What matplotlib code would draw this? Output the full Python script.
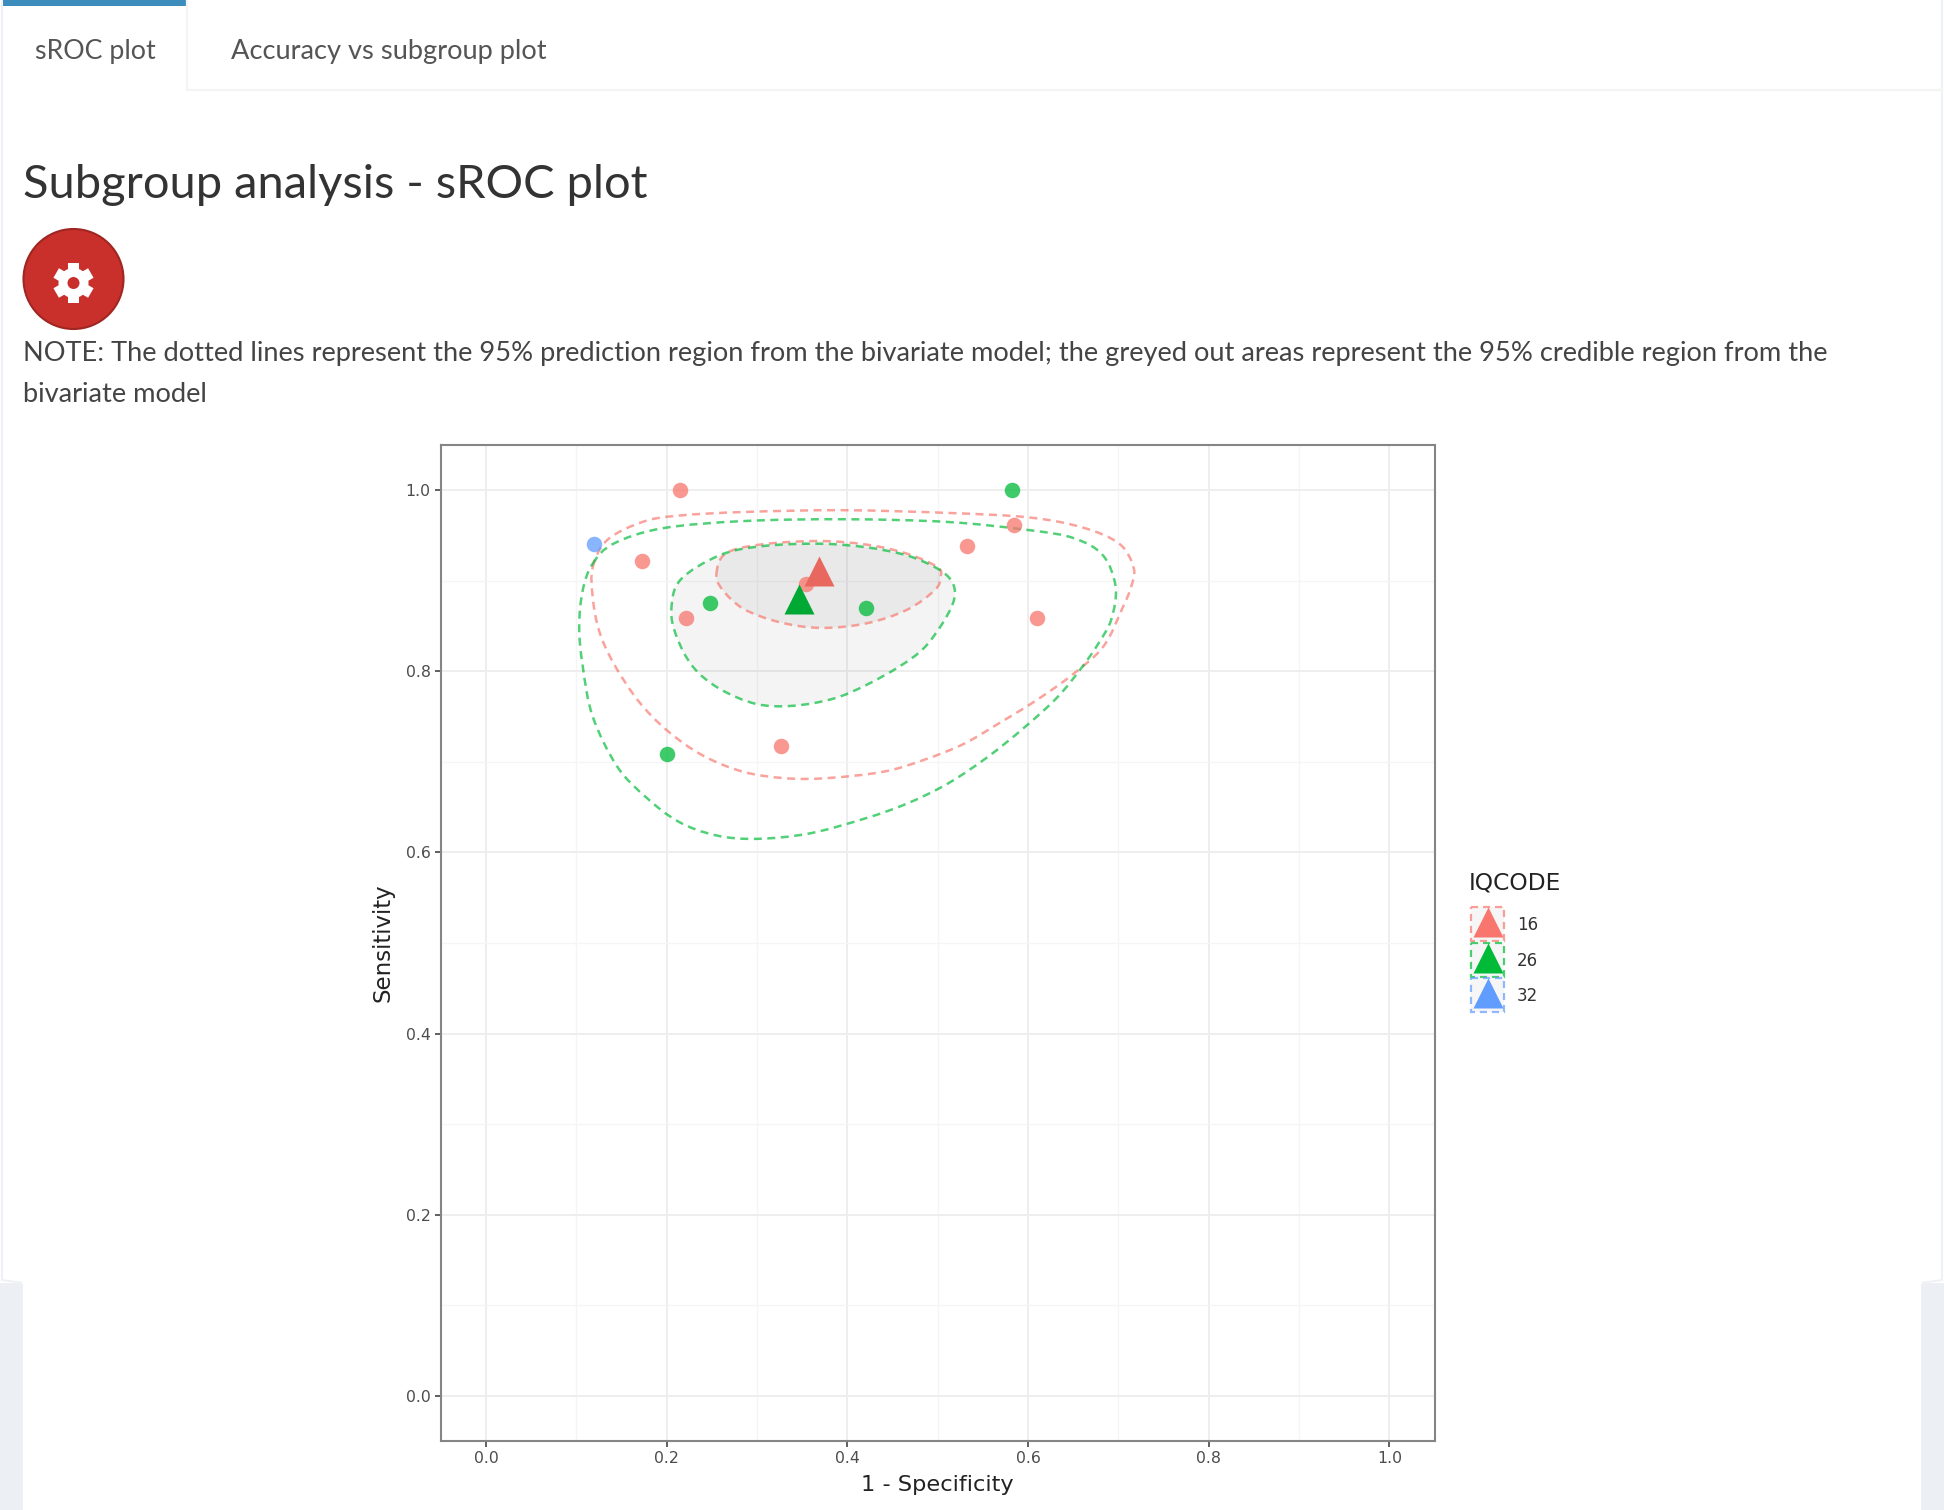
"""
plot.py - subgroup analysis sROC plot, as shown on the results page.
"""
import numpy as np
import matplotlib
matplotlib.use('Agg')
import matplotlib.pyplot as plt
from matplotlib.patches import Circle, PathPatch, Rectangle
from matplotlib.path import Path
from matplotlib.transforms import Affine2D

# Study points: 1 - specificity, sensitivity
red_x = [0.215, 0.173, 0.221, 0.326, 0.354, 0.532, 0.584, 0.610]
red_y = [1.000, 0.922, 0.859, 0.718, 0.897, 0.939, 0.962, 0.859]
green_x = [0.582, 0.248, 0.421, 0.200]
green_y = [1.000, 0.875, 0.870, 0.709]
blue_x = [0.119]
blue_y = [0.941]

# Summary estimates
red_summary = (0.369, 0.911)
green_summary = (0.346, 0.880)

# 95% prediction regions
red_pred_x = [0.118, 0.134, 0.173, 0.213, 0.285, 0.394, 0.511, 0.601, 0.660, 0.701, 0.717, 0.714, 0.705, 0.683,
              0.646, 0.606, 0.570, 0.529, 0.484, 0.439, 0.376, 0.331, 0.285, 0.240, 0.200, 0.168, 0.141, 0.125, 0.118]
red_pred_y = [0.915, 0.945, 0.965, 0.972, 0.976, 0.978, 0.975, 0.970, 0.959, 0.941, 0.914, 0.893, 0.871, 0.827,
              0.794, 0.766, 0.744, 0.720, 0.702, 0.689, 0.682, 0.682, 0.689, 0.707, 0.735, 0.768, 0.809, 0.845, 0.882]
green_pred_x = [0.118, 0.141, 0.195, 0.285, 0.398, 0.511, 0.601, 0.651, 0.683, 0.697, 0.692, 0.678, 0.660, 0.633,
                0.597, 0.556, 0.511, 0.466, 0.421, 0.358, 0.299, 0.254, 0.213, 0.177, 0.145, 0.118, 0.107, 0.103, 0.107]
green_pred_y = [0.919, 0.941, 0.958, 0.966, 0.968, 0.965, 0.956, 0.947, 0.928, 0.893, 0.857, 0.831, 0.805, 0.772,
                0.739, 0.706, 0.676, 0.654, 0.638, 0.621, 0.615, 0.619, 0.634, 0.661, 0.695, 0.750, 0.805, 0.849, 0.890]

# 95% credible regions
red_cred_x = [0.255, 0.265, 0.303, 0.367, 0.421, 0.466, 0.500, 0.503, 0.497, 0.466, 0.421, 0.371, 0.326, 0.285, 0.261]
red_cred_y = [0.908, 0.930, 0.940, 0.944, 0.940, 0.930, 0.915, 0.904, 0.890, 0.868, 0.853, 0.848, 0.854, 0.869, 0.891]
green_cred_x = [0.205, 0.215, 0.258, 0.303, 0.367, 0.421, 0.466, 0.497, 0.513, 0.519, 0.516, 0.504, 0.484, 0.457,
                0.421, 0.385, 0.340, 0.299, 0.258, 0.229, 0.211]
green_cred_y = [0.868, 0.901, 0.928, 0.938, 0.941, 0.937, 0.928, 0.915, 0.903, 0.889, 0.873, 0.851, 0.825, 0.805,
                0.785, 0.770, 0.762, 0.764, 0.781, 0.805, 0.838]

legend_labels = ['16', '26', '32']
major_ticks = [0.0, 0.2, 0.4, 0.6, 0.8, 1.0]
minor_ticks = [0.1, 0.3, 0.5, 0.7, 0.9]

RED = '#F8766D'
GREEN = '#00BA38'
BLUE = '#619CFF'
DASH = (0, (3.2, 2.2))
PAGE_FONT = ['Lato', 'DejaVu Sans']


def closed_path(xs, ys):
    """Closed bezier path running through the given vertices."""
    pts = np.column_stack([xs, ys])
    n = len(pts)
    verts = [pts[0]]
    codes = [Path.MOVETO]
    for i in range(n):
        p0, p1, p2, p3 = pts[i - 1], pts[i], pts[(i + 1) % n], pts[(i + 2) % n]
        verts += [p1 + (p2 - p0) / 6, p2 - (p3 - p1) / 6, p2]
        codes += [Path.CURVE4] * 3
    return Path(verts, codes)


fig = plt.figure(figsize=(19.44, 15.10), dpi=100, facecolor='white')

# ---- page around the chart, in pixel coordinates
page = fig.add_axes([0, 0, 1, 1], zorder=0)
page.set_xlim(0, 1944)
page.set_ylim(1510, 0)
page.set_axis_off()

page.add_patch(Rectangle((0, 1283), 23, 227, fc='#ecf0f5', ec='none'))
page.add_patch(Rectangle((1921, 1283), 23, 227, fc='#ecf0f5', ec='none'))
page.plot([2, 2, 23], [0, 1280, 1283], color='#eef2f6', lw=1.5)
page.plot([1942, 1942, 1921], [0, 1280, 1283], color='#eef2f6', lw=1.5)
page.plot([23, 1921], [1283, 1283], color='white', lw=1.5)
page.plot([187, 187, 1942], [0, 90, 90], color='#f4f4f4', lw=1.6)
page.add_patch(Rectangle((2, 0), 185.5, 5.5, fc='#3c8dbc', ec='none'))

page.text(35, 51.5, 'sROC plot', fontsize=19.3, color='#555555', va='center', family=PAGE_FONT)
page.text(231, 51.5, 'Accuracy vs subgroup plot', fontsize=19.65, color='#555555', va='center', family=PAGE_FONT)
page.text(23, 185.5, 'Subgroup analysis - sROC plot', fontsize=33.8, color='#333333', va='center', family=PAGE_FONT)
page.text(23, 353.5, 'NOTE: The dotted lines represent the 95% prediction region from the bivariate model; '
          'the greyed out areas represent the 95% credible region from the',
          fontsize=19.62, color='#444444', va='center', family=PAGE_FONT)
page.text(23, 394.5, 'bivariate model', fontsize=19.62, color='#444444', va='center', family=PAGE_FONT)

# settings button with gear icon
page.add_patch(Circle((73.5, 279), 50, fc='#c9302c', ec='#a02622', lw=1.5))
for ang in np.arange(0, 180, 60):
    rot = Affine2D().rotate_deg_around(73.5, 283, ang) + page.transData
    page.add_patch(Rectangle((73.5 - 5.5, 283 - 20), 11, 40, fc='white', ec='none', transform=rot))
page.add_patch(Circle((73.5, 283), 15, fc='white', ec='none'))
page.add_patch(Circle((73.5, 283), 6, fc='#c9302c', ec='none'))

# legend, drawn by hand since each key holds a dashed box and a triangle
page.text(1469, 883, 'IQCODE', fontsize=16.8, color='#222222', va='center', family='DejaVu Sans')
for i, (lab, col) in enumerate(zip(legend_labels, [RED, GREEN, BLUE])):
    y0 = 907 + i * 35.5
    page.add_patch(Rectangle((1471, y0), 33, 34, fc='#f3f3f3', ec=col, lw=1.6, ls=DASH, alpha=0.7))
    page.plot([1487.5], [y0 + 15], marker='^', ms=21, color=col, mec='none', ls='none')
    page.text(1517, y0 + 18, lab, fontsize=12, color='#333333', va='center', family='DejaVu Sans')

# ---- sROC chart
ax = fig.add_axes([441 / 1944, (1510 - 1441) / 1510, 993.5 / 1944, 996 / 1510], zorder=1)
ax.set_xlim(-0.05, 1.05)
ax.set_ylim(-0.05, 1.05)
ax.set_xticks(major_ticks)
ax.set_yticks(major_ticks)
ax.set_xticks(minor_ticks, minor=True)
ax.set_yticks(minor_ticks, minor=True)
ax.set_xticklabels([f'{v:.1f}' for v in major_ticks])
ax.set_yticklabels([f'{v:.1f}' for v in major_ticks])
ax.grid(which='major', color='#eeeeee', lw=1.4)
ax.grid(which='minor', color='#f5f5f5', lw=0.9)
ax.set_axisbelow(True)
ax.tick_params(which='major', length=4, width=1.2, color='#444444', labelcolor='#4d4d4d', labelsize=11.3, pad=3.5)
ax.tick_params(which='minor', length=0)
for spine in ax.spines.values():
    spine.set_color('#858585')
    spine.set_linewidth(1.5)
ax.set_xlabel('1 - Specificity', fontsize=16.2, color='#222222', labelpad=6)
ax.set_ylabel('Sensitivity', fontsize=16.5, color='#222222', labelpad=8)

for xs, ys in [(red_cred_x, red_cred_y), (green_cred_x, green_cred_y)]:
    ax.add_patch(PathPatch(closed_path(xs, ys), fc='black', ec='none', alpha=0.045, zorder=2))

for xs, ys, col in [(red_pred_x, red_pred_y, RED), (green_pred_x, green_pred_y, GREEN),
                    (red_cred_x, red_cred_y, RED), (green_cred_x, green_cred_y, GREEN)]:
    ax.add_patch(PathPatch(closed_path(xs, ys), fc='none', ec=col, lw=1.8, ls=DASH, alpha=0.68, zorder=3))

ax.scatter(red_x, red_y, s=125, color=RED, alpha=0.75, linewidths=0, zorder=4)
ax.scatter(green_x, green_y, s=125, color=GREEN, alpha=0.75, linewidths=0, zorder=4)
ax.scatter(blue_x, blue_y, s=125, color=BLUE, alpha=0.75, linewidths=0, zorder=4)

ax.plot(*red_summary, marker='^', ms=21, color='#E8685F', mec='none', ls='none', zorder=5)
ax.plot(*green_summary, marker='^', ms=21, color='#00A933', mec='none', ls='none', zorder=6)

fig.savefig('out.png', dpi=100, facecolor='white')
